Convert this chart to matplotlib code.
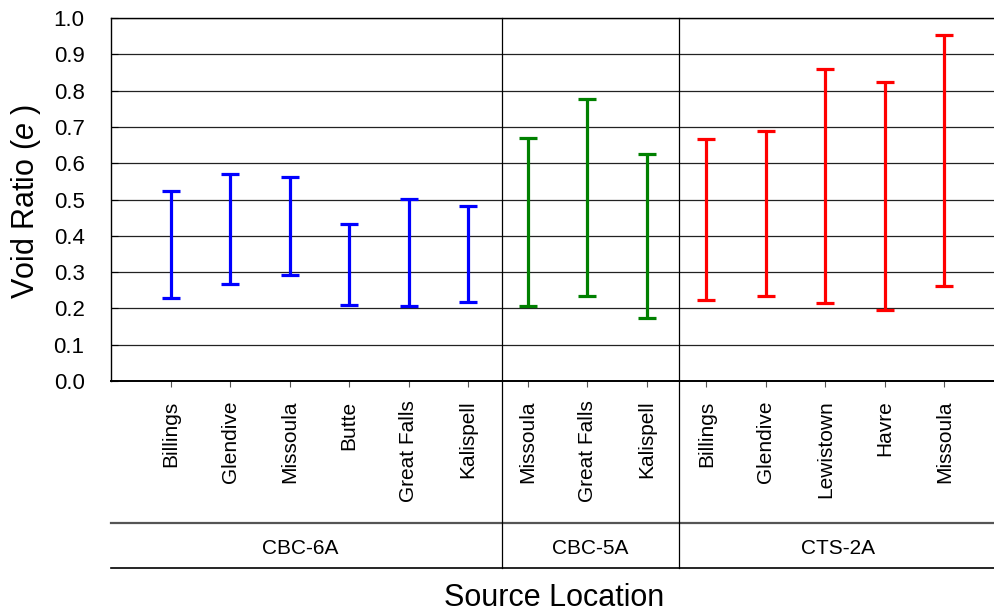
import matplotlib
matplotlib.use('Agg')
import matplotlib.pyplot as plt
import matplotlib.transforms as mtransforms
import numpy as np

plt.rcParams['font.family'] = ['Liberation Sans', 'DejaVu Sans']
plt.rcParams['mathtext.fontset'] = 'custom'
plt.rcParams['mathtext.rm'] = 'Liberation Sans'
plt.rcParams['mathtext.it'] = 'Liberation Sans:italic'

# void ratio ranges (min / max) per source location, grouped by gradation spec
groups = ['CBC-6A', 'CBC-5A', 'CTS-2A']
group_colors = ['#0000ff', '#008000', '#ff0000']
locations = [
    ['Billings', 'Glendive', 'Missoula', 'Butte', 'Great Falls', 'Kalispell'],
    ['Missoula', 'Great Falls', 'Kalispell'],
    ['Billings', 'Glendive', 'Lewistown', 'Havre', 'Missoula'],
]
e_min = [
    [0.228, 0.268, 0.291, 0.210, 0.207, 0.218],
    [0.207, 0.235, 0.174],
    [0.222, 0.233, 0.214, 0.196, 0.263],
]
e_max = [
    [0.523, 0.571, 0.563, 0.433, 0.501, 0.483],
    [0.669, 0.776, 0.625],
    [0.668, 0.689, 0.859, 0.824, 0.952],
]

fig = plt.figure(figsize=(9.95, 6.14), dpi=100)
ax = fig.add_axes([111 / 995, 1 - 381 / 614, 887 / 995, 363 / 614])

labels = []
start = 1
for name, locs, lo, hi, col in zip(groups, locations, e_min, e_max, group_colors):
    lo = np.array(lo)
    hi = np.array(hi)
    x = np.arange(start, start + len(locs))
    ax.errorbar(x, (lo + hi) / 2, yerr=(hi - lo) / 2, fmt='none',
                ecolor=col, elinewidth=2.3, capsize=6.2, capthick=2.3, zorder=3)
    labels += locs
    start += len(locs)

# section dividers sit a touch right of the midpoints
x_right = 14.9
dividers = [6.56, 9.54]
bounds = [0.0] + dividers + [x_right]

ax.set_xlim(0, x_right)
ax.set_ylim(0, 1.0)
yt = np.arange(0, 1.01, 0.1)
ax.set_yticks(yt)
ax.set_yticklabels([f'{v:.1f}' for v in yt], fontsize=16)
ax.set_xticks(np.arange(1, len(labels) + 1))
ax.set_xticklabels(labels, rotation=90, va='top', ha='center', fontsize=15)

ax.tick_params(axis='y', direction='in', length=5, pad=19, width=0.8)
ax.tick_params(axis='x', direction='out', length=4, pad=10, width=0.8, color='#555555')

ax.yaxis.grid(True, color='#222222', linewidth=0.9)
ax.set_axisbelow(True)
ax.spines['right'].set_visible(False)
for s in ['left', 'top', 'bottom']:
    ax.spines[s].set_color('black')
    ax.spines[s].set_linewidth(1.0)
ax.spines['bottom'].set_linewidth(1.4)

trans = mtransforms.blended_transform_factory(ax.transData, ax.transAxes)

# group rows beneath the location labels
y_row_top = (381 - 522.7) / 363
y_row_bot = (381 - 568.3) / 363
ax.plot([0, x_right], [y_row_top, y_row_top], transform=trans, color='#555555',
        linewidth=1.6, clip_on=False)
ax.plot([0, x_right], [y_row_bot, y_row_bot], transform=trans, color='black',
        linewidth=1.2, clip_on=False)
for d in dividers:
    ax.plot([d, d], [1.0, y_row_bot], transform=trans, color='black',
            linewidth=0.9, clip_on=False, zorder=4)

y_group = (381 - 548) / 363
for name, a, b in zip(groups, bounds[:-1], bounds[1:]):
    ax.text((a + b) / 2 - (0.1 if name == 'CBC-6A' else 0), y_group, name,
            transform=trans, ha='center', va='center', fontsize=15)

ax.text(0.5, (381 - 598) / 363, 'Source Location', transform=ax.transAxes,
        ha='center', va='center', fontsize=22)
fig.text(26 / 995, 1 - 201 / 614, r'Void Ratio ($\it{e}$ )', rotation=90,
         ha='center', va='center', fontsize=22)

fig.savefig('out.png', dpi=100)
